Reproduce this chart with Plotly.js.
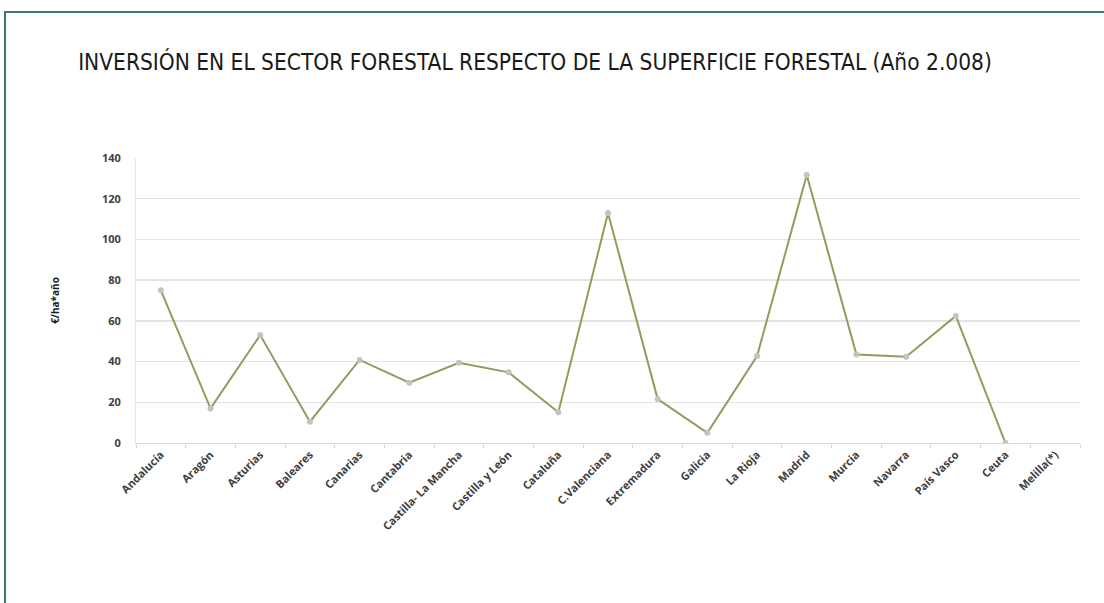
<!DOCTYPE html>
<html>
<head>
<meta charset="utf-8">
<script src="https://cdn.plot.ly/plotly-3.0.1.min.js"></script>
<style>
html,body{margin:0;padding:0;background:#fff;}
#wrap{position:relative;width:1104px;height:603px;overflow:hidden;}
#chart{position:absolute;left:0;top:0;width:1104px;height:603px;}
#frame{position:absolute;left:4px;top:11px;width:1200px;height:700px;border-left:2px solid #3c7767;border-top:2px solid #3c7767;pointer-events:none;}
</style>
</head>
<body>
<div id="wrap"><div id="chart"></div><div id="frame"></div></div>
<script>
var categories = ["Andalucía","Aragón","Asturias","Baleares","Canarias","Cantabria","Castilla- La Mancha","Castilla y León","Cataluña","C.Valenciana","Extremadura","Galicia","La Rioja","Madrid","Murcia","Navarra","País Vasco","Ceuta","Melilla(*)"];
var values = [75, 17, 53, 10.5, 40.8, 29.6, 39.4, 34.7, 15.1, 113, 21.6, 5, 42.7, 131.6, 43.5, 42.4, 62.4, 0, null];
var yTicks = [0, 20, 40, 60, 80, 100, 120, 140];

var trace = {
  x: categories,
  y: values,
  type: 'scatter',
  mode: 'lines+markers',
  line: {color: '#939c5e', width: 2},
  marker: {color: '#c4c4bc', size: 6},
  connectgaps: false,
  hoverinfo: 'x+y'
};

var layout = {
  width: 1104, height: 603,
  margin: {l: 136, r: 24, t: 158, b: 160},
  paper_bgcolor: '#ffffff',
  plot_bgcolor: '#ffffff',
  showlegend: false,
  title: {
    text: 'INVERSIÓN EN EL SECTOR FORESTAL RESPECTO DE LA SUPERFICIE FORESTAL (Año 2.008)',
    font: {family: 'DejaVu Sans Condensed, sans-serif', size: 22.5, color: '#1a1a1a'},
    x: 535/1104, xanchor: 'center', xref: 'container',
    y: 1 - 62/603, yanchor: 'middle', yref: 'container'
  },
  xaxis: {
    type: 'category',
    categoryorder: 'array', categoryarray: categories,
    range: [-0.5, categories.length - 0.5],
    tickangle: -45,
    tickfont: {family: 'Open Sans, sans-serif', size: 11, color: '#404040', weight: 700},
    showgrid: false,
    showline: true, linecolor: '#d9d9d9', linewidth: 1,
    ticks: 'outside', ticklen: 4, tickcolor: '#d9d9d9',
    tickson: 'boundaries',
    zeroline: false
  },
  yaxis: {
    range: [0, 140],
    tickvals: yTicks,
    ticktext: yTicks.map(String),
    tickfont: {family: 'Open Sans, sans-serif', size: 11, color: '#404040', weight: 700},
    showgrid: true, gridcolor: '#e3e3e3', gridwidth: 1.5,
    showline: true, linecolor: '#e6e6e6',
    zeroline: false,
    ticks: '', ticklabelstandoff: 12,
    title: {text: '€/ha*año', font: {family: 'Open Sans, sans-serif', size: 10, color: '#1a1a1a', weight: 700}, standoff: 40}
  }
};

Plotly.newPlot('chart', [trace], layout, {displayModeBar: false, staticPlot: true});
</script>
</body>
</html>
